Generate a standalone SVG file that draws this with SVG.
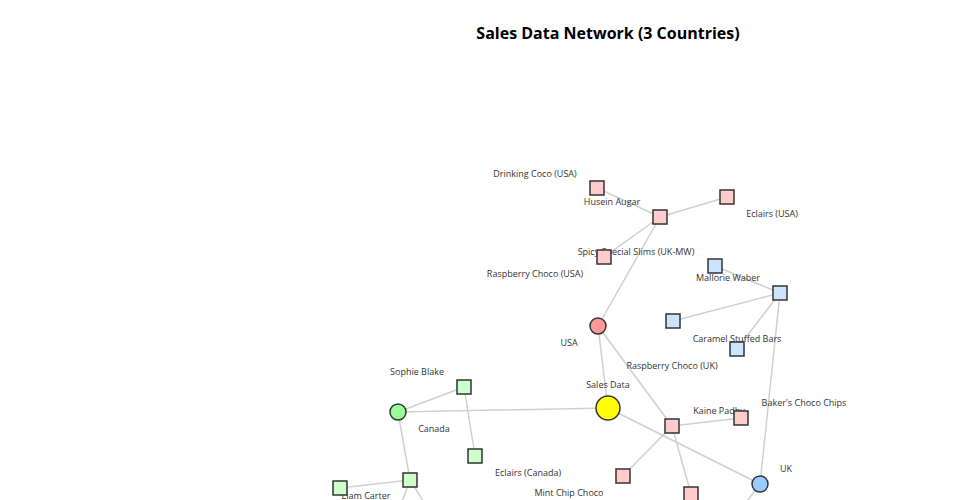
<svg xmlns="http://www.w3.org/2000/svg" width="960" height="500" viewBox="0 0 960 500">
<style>
text{font-family:"Open Sans","Liberation Sans",sans-serif;}
.title{font-size:16px;font-weight:bold;fill:#000;text-anchor:middle;}
.lbl{font-size:9px;fill:#333;text-anchor:middle;}
.links line{stroke:#d0d0d0;stroke-width:1.5;}
.n{stroke:#333;stroke-width:1.5;}
.usa{fill:#ffcccc;}
.uk{fill:#cce5ff;}
.ca{fill:#ccffcc;}
</style>
<rect width="960" height="500" fill="#fff"/>
<text class="title" x="608" y="39">Sales Data Network (3 Countries)</text>
<g class="links">
<line x1="597" y1="188" x2="660" y2="217"/>
<line x1="660" y1="217" x2="727" y2="197"/>
<line x1="660" y1="217" x2="604" y2="257"/>
<line x1="660" y1="217" x2="598" y2="326"/>
<line x1="598" y1="326" x2="608" y2="408"/>
<line x1="598" y1="326" x2="672" y2="426"/>
<line x1="780" y1="293" x2="715" y2="266"/>
<line x1="780" y1="293" x2="673" y2="321"/>
<line x1="780" y1="293" x2="737" y2="349"/>
<line x1="780" y1="293" x2="760" y2="484"/>
<line x1="608" y1="408" x2="398" y2="412"/>
<line x1="608" y1="408" x2="760" y2="484"/>
<line x1="398" y1="412" x2="464" y2="387"/>
<line x1="464" y1="387" x2="475" y2="456"/>
<line x1="398" y1="412" x2="410" y2="480"/>
<line x1="410" y1="480" x2="340" y2="488"/>
<line x1="410" y1="480" x2="399" y2="510"/>
<line x1="410" y1="480" x2="429" y2="510"/>
<line x1="672" y1="426" x2="741" y2="418"/>
<line x1="672" y1="426" x2="623" y2="476"/>
<line x1="672" y1="426" x2="691" y2="494"/>
<line x1="760" y1="484" x2="742" y2="508"/>
</g>
<g id="node-drinking-coco"><text class="lbl" x="535" y="177">Drinking Coco (USA)</text><rect class="n usa" x="590" y="181" width="14" height="14"/></g>
<g id="node-husein-augar"><text class="lbl" x="612" y="205">Husein Augar</text><rect class="n usa" x="653" y="210" width="14" height="14"/></g>
<g id="node-eclairs-usa"><text class="lbl" x="772" y="217">Eclairs (USA)</text><rect class="n usa" x="720" y="190" width="14" height="14"/></g>
<g id="node-spicy"><text class="lbl" x="636" y="255">Spicy Special Slims (UK-MW)</text><rect class="n usa" x="597" y="250" width="14" height="14"/></g>
<g id="node-raspberry-usa"><text class="lbl" x="535" y="277">Raspberry Choco (USA)</text></g>
<g id="node-mallorie"><text class="lbl" x="728" y="281">Mallorie Waber</text><rect class="n uk" x="708" y="259" width="14" height="14"/></g>
<g id="node-uk-hub"><rect class="n uk" x="773" y="286" width="14" height="14"/></g>
<g id="node-uk-prod"><rect class="n uk" x="666" y="314" width="14" height="14"/></g>
<g id="node-caramel"><text class="lbl" x="737" y="342">Caramel Stuffed Bars</text><rect class="n uk" x="730" y="342" width="14" height="14"/></g>
<g id="node-usa"><text class="lbl" x="569" y="346">USA</text><circle class="n" cx="598" cy="326" r="8" fill="#ff9999"/></g>
<g id="node-raspberry-uk"><text class="lbl" x="672" y="369">Raspberry Choco (UK)</text></g>
<g id="node-sophie"><text class="lbl" x="417" y="375">Sophie Blake</text><rect class="n ca" x="457" y="380" width="14" height="14"/></g>
<g id="node-canada"><text class="lbl" x="434" y="432">Canada</text><circle class="n" cx="398" cy="412" r="8" fill="#99ff99"/></g>
<g id="node-eclairs-canada"><text class="lbl" x="528" y="476">Eclairs (Canada)</text><rect class="n ca" x="468" y="449" width="14" height="14"/></g>
<g id="node-canada-hub"><rect class="n ca" x="403" y="473" width="14" height="14"/></g>
<g id="node-liam"><text class="lbl" x="366" y="499">Liam Carter</text><rect class="n ca" x="333" y="481" width="14" height="14"/></g>
<g id="node-sales"><text class="lbl" x="608" y="388">Sales Data</text><circle class="n" cx="608" cy="408" r="12" fill="#ffff00"/></g>
<g id="node-kaine-hub"><rect class="n usa" x="665" y="419" width="14" height="14"/></g>
<g id="node-kaine"><text class="lbl" x="719" y="414">Kaine Padhy</text><rect class="n usa" x="734" y="411" width="14" height="14"/></g>
<g id="node-bakers"><text class="lbl" x="804" y="406">Baker's Choco Chips</text></g>
<g id="node-mint"><rect class="n usa" x="616" y="469" width="14" height="14"/><text class="lbl" x="569" y="496">Mint Chip Choco</text></g>
<g id="node-bottom-pink"><rect class="n usa" x="684" y="487" width="14" height="14"/></g>
<g id="node-uk"><text class="lbl" x="786" y="472">UK</text><circle class="n" cx="760" cy="484" r="8" fill="#99ccff"/></g>
</svg>
